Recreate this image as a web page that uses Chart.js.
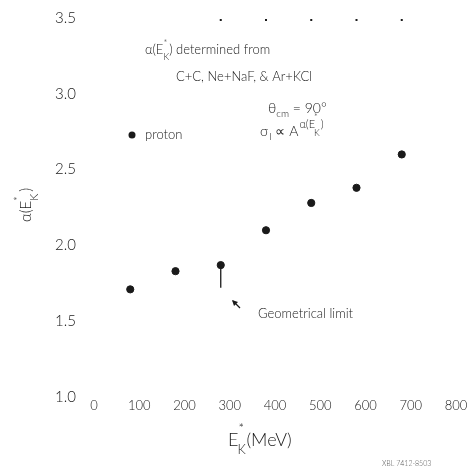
<!DOCTYPE html>
<html>
<head>
<meta charset="utf-8">
<script src="https://cdn.jsdelivr.net/npm/chart.js@4/dist/chart.umd.min.js"></script>
<style>
  html, body { margin: 0; padding: 0; background: #fff; }
  canvas { display: block; }
</style>
</head>
<body>
<canvas id="alphaPlot" width="467" height="473"></canvas>
<script>
// alpha(E*_K) vs beam energy per nucleon, proton data
const energies    = [100, 200, 300, 400, 500, 600, 700];
const alphaValues = [1.71, 1.83, 1.87, 2.10, 2.28, 2.38, 2.60];
// geometrical limit bar hanging under the 300 MeV point
const limitEnergy = [300, 300];
const limitAlpha  = [1.87, 1.72];
const xTickValues = [0, 100, 200, 300, 400, 500, 600, 700, 800];
const yTickValues = [1.0, 1.5, 2.0, 2.5, 3.0, 3.5];
const topMarks    = [300, 400, 500, 600, 700];

const FONT = "Lato, 'DejaVu Sans', sans-serif";
const INK = '#1a1a1a';

function txt(ctx, t, x, y, size){
    ctx.font = `300 ${size}px ${FONT}`;
    ctx.fillText(t, x, y);
    return ctx.measureText(t).width;
}

const annotations = {
    id: 'annotations',
    afterDraw(chart){
        const ctx = chart.ctx;
        const xs = chart.scales.x, ys = chart.scales.y;
        ctx.save();
        ctx.fillStyle = INK;
        ctx.strokeStyle = INK;
        ctx.textBaseline = 'middle';
        ctx.textAlign = 'left';

        // faint top frame tick marks
        topMarks.forEach(v => {
            ctx.fillRect(xs.getPixelForValue(v) - 1, ys.getPixelForValue(3.5) + 1, 2, 2);
        });

        // header note
        let x = 145;
        x += txt(ctx, 'α(E', x, 50, 13);
        txt(ctx, '*', x, 43, 9);
        x += txt(ctx, 'K', x, 57, 9);
        txt(ctx, ') determined from', x, 50, 13);
        txt(ctx, 'C+C, Ne+NaF, & Ar+KCl', 176, 77, 13);

        // theta_cm = 90°
        x = 268;
        x += txt(ctx, 'θ', x, 108, 14);
        x += txt(ctx, 'cm', x, 114, 10);
        txt(ctx, ' = 90°', x, 108, 14);

        // sigma_I ∝ A^alpha(E*_K)
        x = 260;
        x += txt(ctx, 'σ', x, 131, 14);
        x += txt(ctx, 'I', x + 1, 137, 10) + 1;
        x += txt(ctx, ' ∝ A', x, 131, 14);
        x += txt(ctx, 'α(E', x + 1, 124, 11) + 1;
        txt(ctx, '*', x - 1, 117, 9);
        x += txt(ctx, 'K', x - 1, 133, 9);
        txt(ctx, ')', x, 124, 11);

        // legend marker
        ctx.beginPath();
        ctx.arc(132, 135, 3.5, 0, Math.PI * 2);
        ctx.fill();
        txt(ctx, 'proton', 145, 135, 13);

        // geometrical limit label + arrow
        txt(ctx, 'Geometrical limit', 258, 314, 13);
        ctx.beginPath();
        ctx.moveTo(240, 308); ctx.lineTo(233, 301);
        ctx.lineWidth = 1.2; ctx.stroke();
        ctx.beginPath();
        ctx.moveTo(232, 300); ctx.lineTo(238, 302); ctx.lineTo(234, 306); ctx.closePath();
        ctx.fill();

        // x-axis title
        const tx = 228, ty = 440;
        const ew = txt(ctx, 'E', tx, ty, 18);
        txt(ctx, '*', tx + ew, ty - 11, 13);
        txt(ctx, 'K', tx + ew - 1, ty + 10, 13);
        txt(ctx, '(MeV)', tx + ew + 8, ty, 18);

        // y-axis title, rotated
        ctx.save();
        ctx.translate(26, 222);
        ctx.rotate(-Math.PI / 2);
        const aw = txt(ctx, 'α(E', 0, 0, 15);
        txt(ctx, '*', aw, -8, 11);
        txt(ctx, 'K', aw, 8, 11);
        txt(ctx, ')', aw + 9, 0, 15);
        ctx.restore();

        // plate number
        ctx.fillStyle = '#555';
        txt(ctx, 'XBL 7412-8503', 382, 464, 7);
        ctx.restore();
    }
};

new Chart(document.getElementById('alphaPlot'), {
    type: 'scatter',
    data: {
        datasets: [
            {
                label: 'proton',
                data: energies.map((e, i) => ({ x: e, y: alphaValues[i] })),
                backgroundColor: INK,
                borderColor: INK,
                pointRadius: 3.6,
                pointHoverRadius: 3.6
            },
            {
                label: 'Geometrical limit',
                type: 'line',
                data: limitEnergy.map((e, i) => ({ x: e, y: limitAlpha[i] })),
                borderColor: INK,
                borderWidth: 1.3,
                pointRadius: 0,
                fill: false
            }
        ]
    },
    options: {
        responsive: false,
        animation: false,
        layout: { padding: { top: 16, right: 20, left: 0, bottom: 0 } },
        plugins: { legend: { display: false }, tooltip: { enabled: false }, title: { display: false } },
        scales: {
            x: {
                type: 'linear',
                min: 0, max: 800,
                afterBuildTicks: s => { s.ticks = xTickValues.map(v => ({ value: v })); },
                afterFit: s => { s.height = 76; },
                ticks: {
                    color: INK,
                    font: { family: FONT, size: 13, weight: '300' },
                    padding: 1,
                    labelOffset: 9,
                    maxRotation: 0,
                    autoSkip: false,
                    callback: v => String(v)
                },
                grid: { display: false, drawTicks: false },
                border: { display: false }
            },
            y: {
                min: 1.0, max: 3.5,
                afterBuildTicks: s => { s.ticks = yTickValues.map(v => ({ value: v })); },
                afterFit: s => { s.width = 85; },
                ticks: {
                    color: INK,
                    font: { family: FONT, size: 15, weight: '300' },
                    padding: 9,
                    autoSkip: false,
                    callback: v => Number(v).toFixed(1)
                },
                grid: { display: false, drawTicks: false },
                border: { display: false }
            }
        }
    },
    plugins: [annotations]
});
</script>
</body>
</html>
